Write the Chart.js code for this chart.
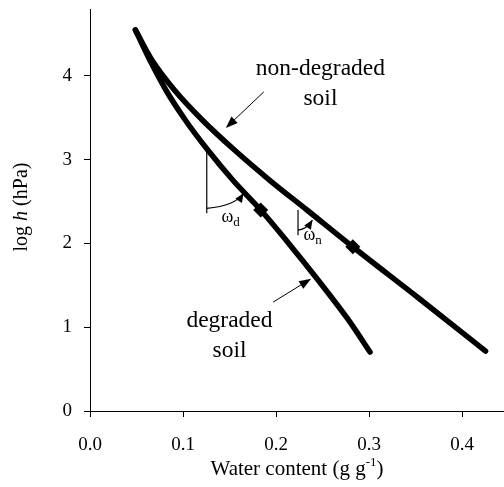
<!DOCTYPE html>
<html>
<head>
<meta charset="utf-8">
<script src="https://cdn.jsdelivr.net/npm/chart.js@4.4.1/dist/chart.umd.min.js"></script>
<style>
  html, body { margin: 0; padding: 0; background: #fff; }
  canvas { display: block; }
</style>
</head>
<body>
<canvas id="chart" width="504" height="487"></canvas>
<script>
// retention curves
const degradedX = [0.0488, 0.0643, 0.0817, 0.1024, 0.1266, 0.1534, 0.1835, 0.2106, 0.2451, 0.2778, 0.301];
const degradedY = [4.55, 4.19, 3.83, 3.475, 3.116, 2.758, 2.4, 2.042, 1.564, 1.087, 0.704];
const nonDegradedX = [0.0488, 0.0665, 0.0907, 0.1207, 0.1553, 0.1929, 0.2332, 0.2827, 0.3531, 0.4252];
const nonDegradedY = [4.55, 4.191, 3.833, 3.475, 3.116, 2.758, 2.4, 1.958, 1.349, 0.716];
// inflection points (diamonds)
const markerX = [0.1835, 0.2825];
const markerY = [2.4, 1.96];

const xTicks = [0, 0.1, 0.2, 0.3, 0.4];
const yTicks = [0, 1, 2, 3, 4];

// annotations, in data units
const arrows = [
  { from: [0.1868, 3.81], to: [0.146, 3.38] },
  { from: [0.1968, 1.3], to: [0.2377, 1.58] },
];
const angleMarks = [
  { top: [0.1255, 3.1], bottom: [0.1255, 2.36], start: [0.1255, 2.42], ctrl: [0.1563, 2.45], end: [0.165, 2.6] },
  { top: [0.2236, 2.4], bottom: [0.2236, 2.1], start: [0.2236, 2.16], ctrl: [0.2327, 2.17], end: [0.2391, 2.28] },
];
const labels = [
  { text: "non-degraded", at: [0.2477, 4.01] },
  { text: "soil", at: [0.2477, 3.65] },
  { text: "degraded", at: [0.1499, 1.0] },
  { text: "soil", at: [0.1499, 0.645] },
];
const omegas = [
  { sub: "d", at: [0.1413, 2.257] },
  { sub: "n", at: [0.2295, 2.042] },
];

const FONT = '"Liberation Serif", "Times New Roman", serif';

function toPoints(xs, ys) {
  return xs.map((x, i) => ({ x: x, y: ys[i] }));
}

function richText(ctx, runs, x, y, align) {
  let w = 0;
  runs.forEach((r) => {
    ctx.font = `${r.style || ""} ${r.size}px ${FONT}`;
    r.w = ctx.measureText(r.text).width;
    w += r.w;
  });
  let cx = align === "center" ? x - w / 2 : x;
  ctx.textAlign = "left";
  ctx.textBaseline = "alphabetic";
  runs.forEach((r) => {
    ctx.font = `${r.style || ""} ${r.size}px ${FONT}`;
    ctx.fillText(r.text, cx, y + (r.dy || 0));
    cx += r.w;
  });
}

function arrowHead(ctx, fx, fy, tx, ty, len, half) {
  const a = Math.atan2(ty - fy, tx - fx);
  ctx.beginPath();
  ctx.moveTo(tx, ty);
  ctx.lineTo(tx - len * Math.cos(a) + half * Math.sin(a), ty - len * Math.sin(a) - half * Math.cos(a));
  ctx.lineTo(tx - len * Math.cos(a) - half * Math.sin(a), ty - len * Math.sin(a) + half * Math.cos(a));
  ctx.closePath();
  ctx.fill();
}

function noPadding(s) {
  s.paddingTop = 0;
  s.paddingBottom = 0;
  s.paddingLeft = 0;
  s.paddingRight = 0;
}

const notesPlugin = {
  id: "notes",
  afterDraw(chart) {
    const ctx = chart.ctx;
    const xs = chart.scales.x;
    const ys = chart.scales.y;
    const px = (p) => [xs.getPixelForValue(p[0]), ys.getPixelForValue(p[1])];
    ctx.save();
    ctx.fillStyle = "#000";
    ctx.strokeStyle = "#000";
    ctx.lineWidth = 1;

    arrows.forEach((a) => {
      const f = px(a.from);
      const t = px(a.to);
      const ang = Math.atan2(t[1] - f[1], t[0] - f[0]);
      ctx.beginPath();
      ctx.moveTo(f[0], f[1]);
      ctx.lineTo(t[0] - 10 * Math.cos(ang), t[1] - 10 * Math.sin(ang));
      ctx.stroke();
      arrowHead(ctx, f[0], f[1], t[0], t[1], 12, 4.5);
    });

    angleMarks.forEach((m) => {
      const top = px(m.top);
      const bot = px(m.bottom);
      ctx.lineWidth = 1.2;
      ctx.beginPath();
      ctx.moveTo(top[0], top[1]);
      ctx.lineTo(bot[0], bot[1]);
      ctx.stroke();
      const s = px(m.start);
      const c = px(m.ctrl);
      const e = px(m.end);
      ctx.beginPath();
      ctx.moveTo(s[0], s[1]);
      ctx.quadraticCurveTo(c[0], c[1], e[0], e[1]);
      ctx.stroke();
      arrowHead(ctx, c[0], c[1], e[0], e[1], 9, 4);
    });

    labels.forEach((l) => {
      const p = px(l.at);
      richText(ctx, [{ text: l.text, size: 23.5 }], p[0], p[1], "center");
    });

    omegas.forEach((o) => {
      const p = px(o.at);
      richText(ctx, [
        { text: "\u03c9", size: 18 },
        { text: o.sub, size: 13, dy: 4 },
      ], p[0], p[1], "left");
    });

    // axis titles
    const area = chart.chartArea;
    richText(ctx, [
      { text: "Water content (g g", size: 21 },
      { text: "-1", size: 13, dy: -9 },
      { text: ")", size: 21 },
    ], (area.left + area.right) / 2, 475, "center");

    ctx.translate(27, 207);
    ctx.rotate(-Math.PI / 2);
    richText(ctx, [
      { text: "log ", size: 20 },
      { text: "h", size: 20, style: "italic" },
      { text: " (hPa)", size: 20 },
    ], 0, 0, "center");
    ctx.restore();
  },
};

const curveStyle = {
  showLine: true,
  borderColor: "#000",
  borderWidth: 5.5,
  borderCapStyle: "round",
  borderJoinStyle: "round",
  pointRadius: 0,
  cubicInterpolationMode: "monotone",
};

new Chart(document.getElementById("chart"), {
  type: "scatter",
  data: {
    datasets: [
      Object.assign({ label: "degraded soil", data: toPoints(degradedX, degradedY) }, curveStyle),
      Object.assign({ label: "non-degraded soil", data: toPoints(nonDegradedX, nonDegradedY) }, curveStyle),
      {
        label: "markers",
        data: toPoints(markerX, markerY),
        pointStyle: "rectRot",
        pointRadius: 7.5,
        backgroundColor: "#000",
        borderColor: "#000",
        borderWidth: 0,
        showLine: false,
      },
    ],
  },
  options: {
    responsive: false,
    animation: false,
    devicePixelRatio: 1,
    layout: { autoPadding: false, padding: { top: 9, right: 0, left: 0, bottom: 0 } },
    plugins: { legend: { display: false }, tooltip: { enabled: false } },
    scales: {
      x: {
        type: "linear",
        min: 0,
        max: 0.445,
        afterBuildTicks: (s) => { s.ticks = xTicks.map((v) => ({ value: v })); },
        afterFit: (s) => { s.height = 76; noPadding(s); },
        ticks: {
          callback: (v) => v.toFixed(1),
          font: { family: FONT, size: 19 },
          color: "#000",
          padding: 17,
          maxRotation: 0,
        },
        grid: { drawOnChartArea: false, tickLength: 6, color: "#000", lineWidth: 1 },
        border: { display: true, color: "#000", width: 1 },
      },
      y: {
        type: "linear",
        min: 0,
        max: 4.8,
        afterBuildTicks: (s) => { s.ticks = yTicks.map((v) => ({ value: v })); },
        afterFit: (s) => { s.width = 90; noPadding(s); },
        ticks: {
          callback: (v) => String(v),
          font: { family: FONT, size: 19 },
          color: "#000",
          padding: 12,
        },
        grid: { drawOnChartArea: false, tickLength: 6, color: "#000", lineWidth: 1 },
        border: { display: true, color: "#000", width: 1 },
      },
    },
  },
  plugins: [notesPlugin],
});
</script>
</body>
</html>
